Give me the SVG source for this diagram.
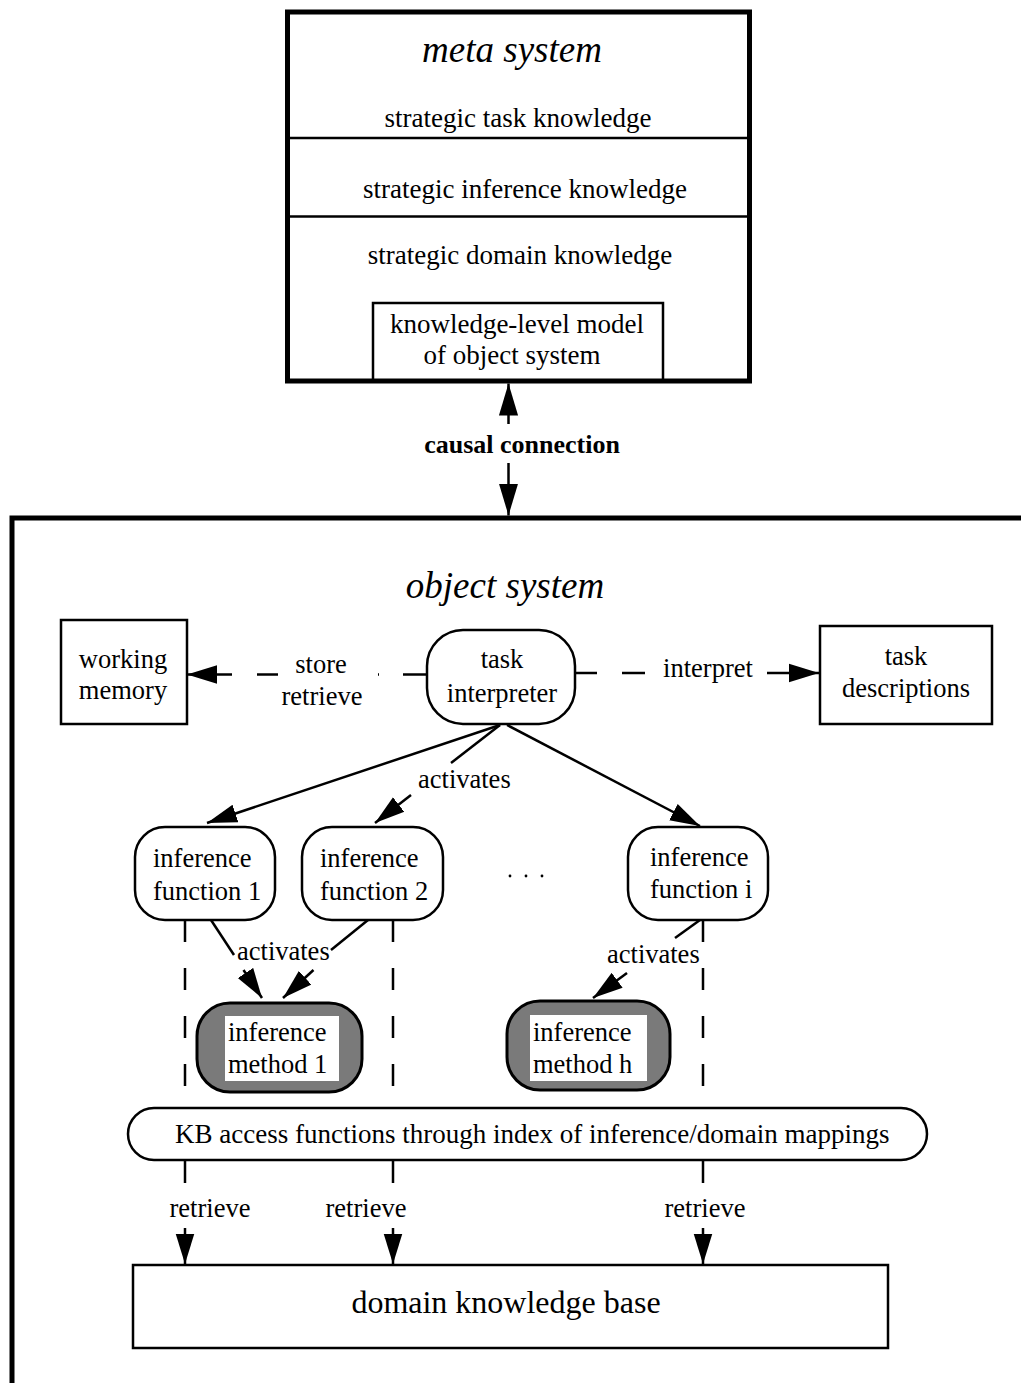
<svg xmlns="http://www.w3.org/2000/svg" width="1021" height="1383" viewBox="0 0 1021 1383">
  <style>
    text { font-family: "Liberation Serif", "Times New Roman", serif; fill: #000; }
    .t { font-size: 26.5px; }
    .tm { font-size: 27px; }
    .title { font-size: 37px; font-style: italic; }
    .mid { text-anchor: middle; }
    .box { fill: #fff; stroke: #000; stroke-width: 2.5; }
    .thick { fill: none; stroke: #000; stroke-width: 5; }
    .line { stroke: #000; stroke-width: 2.5; fill: none; }
    .dash { stroke: #000; stroke-width: 2.5; fill: none; stroke-dasharray: 22 26; }
    .method { fill: #7a7a7a; stroke: #000; stroke-width: 3; }
  </style>
  <defs>
    <marker id="head" markerUnits="userSpaceOnUse" markerWidth="30" markerHeight="20" viewBox="0 0 26 16" refX="26" refY="8" orient="auto">
      <path d="M0,0 L26,8 L0,16 Z" fill="#000"/>
    </marker>
    <marker id="bighead" markerUnits="userSpaceOnUse" markerWidth="32" markerHeight="20" viewBox="0 0 30 18" refX="30" refY="9" orient="auto">
      <path d="M0,0 L30,9 L0,18 Z" fill="#000"/>
    </marker>
  </defs>

  <rect width="1021" height="1383" fill="#fff"/>

  <!-- meta system -->
  <g id="meta-system">
    <rect x="287.5" y="12" width="462" height="369" class="thick"/>
    <line x1="290" y1="138" x2="747" y2="138" stroke="#000" stroke-width="2.5"/>
    <line x1="290" y1="216.5" x2="747" y2="216.5" stroke="#000" stroke-width="2.5"/>
    <text x="512" y="62" class="title mid">meta system</text>
    <text x="518" y="127" class="tm mid">strategic task knowledge</text>
    <text x="525" y="198" class="tm mid">strategic inference knowledge</text>
    <text x="520" y="264" class="tm mid">strategic domain knowledge</text>
  </g>
  <g id="knowledge-level-model">
    <path d="M373,381 V303 H663 V381" class="line"/>
    <text x="517" y="333" class="tm mid">knowledge-level model</text>
    <text x="512" y="364" class="tm mid">of object system</text>
  </g>

  <!-- object system frame -->
  <g id="object-system">
    <rect x="12" y="518" width="1100" height="1000" class="thick"/>
    <text x="505" y="598" class="title mid">object system</text>
  </g>

  <g id="working-memory">
    <rect x="61" y="620" width="126" height="104" class="box"/>
    <text x="123" y="668" class="t mid">working</text>
    <text x="123" y="699" class="t mid">memory</text>
  </g>
  <g id="task-interpreter">
    <rect x="427" y="630" width="148" height="94" rx="36" class="box"/>
    <text x="502" y="668" class="t mid">task</text>
    <text x="502" y="702" class="t mid">interpreter</text>
  </g>
  <g id="task-descriptions">
    <rect x="820" y="626" width="172" height="98" class="box"/>
    <text x="906" y="665" class="t mid">task</text>
    <text x="906" y="697" class="t mid">descriptions</text>
  </g>

  <g id="inference-function-1">
    <rect x="135" y="827" width="140" height="93" rx="30" class="box"/>
    <text x="153" y="867" class="t">inference</text>
    <text x="153" y="900" class="t">function 1</text>
  </g>
  <g id="inference-function-2">
    <rect x="302" y="827" width="141" height="93" rx="30" class="box"/>
    <text x="320" y="867" class="t">inference</text>
    <text x="320" y="900" class="t">function 2</text>
  </g>
  <g id="ellipsis">
    <circle cx="510" cy="876" r="1.4" fill="#000"/>
    <circle cx="526" cy="876" r="1.4" fill="#000"/>
    <circle cx="542" cy="876" r="1.4" fill="#000"/>
  </g>
  <g id="inference-function-i">
    <rect x="628" y="827" width="140" height="93" rx="30" class="box"/>
    <text x="650" y="866" class="t">inference</text>
    <text x="650" y="898" class="t">function i</text>
  </g>

  <g id="inference-method-1">
    <rect x="197" y="1003" width="165" height="89" rx="33" class="method"/>
    <rect x="225" y="1016" width="114" height="65" fill="#fff"/>
    <text x="228" y="1041" class="t">inference</text>
    <text x="228" y="1073" class="t">method 1</text>
  </g>
  <g id="inference-method-h">
    <rect x="507" y="1001" width="163" height="89" rx="33" class="method"/>
    <rect x="530" y="1015" width="117" height="66" fill="#fff"/>
    <text x="533" y="1041" class="t">inference</text>
    <text x="533" y="1073" class="t">method h</text>
  </g>

  <g id="kb-access">
    <rect x="128" y="1108" width="799" height="52" rx="26" class="box"/>
    <text x="175" y="1143" class="tm">KB access functions through index of inference/domain mappings</text>
  </g>

  <g id="domain-knowledge-base">
    <rect x="133" y="1265" width="755" height="83" class="box"/>
    <text x="506" y="1313" style="font-size:32px" class="mid">domain knowledge base</text>
  </g>

  <!-- connectors -->
  <g id="connectors">
    <!-- causal connection -->
    <line x1="508.5" y1="424" x2="508.5" y2="383.5" class="line" marker-end="url(#bighead)"/>
    <line x1="508.5" y1="463" x2="508.5" y2="515.5" class="line" marker-end="url(#bighead)"/>
    <text x="522" y="453" class="mid" style="font-size:26px;font-weight:bold">causal connection</text>

    <!-- store / retrieve -->
    <line x1="427" y1="674.5" x2="403" y2="674.5" class="line"/>
    <line x1="378" y1="674.5" x2="379" y2="674.5" class="line"/>
    <line x1="278" y1="674.5" x2="257" y2="674.5" class="line"/>
    <line x1="232" y1="674.5" x2="187" y2="674.5" class="line" marker-end="url(#head)"/>
    <text x="321" y="673" class="t mid">store</text>
    <text x="322" y="705" class="t mid">retrieve</text>

    <!-- interpret -->
    <line x1="575" y1="673" x2="597" y2="673" class="line"/>
    <line x1="622" y1="673" x2="645" y2="673" class="line"/>
    <line x1="767" y1="673" x2="819" y2="673" class="line" marker-end="url(#head)"/>
    <text x="708" y="677" class="t mid">interpret</text>

    <!-- activates: interpreter to inference functions -->
    <line x1="500" y1="725" x2="207" y2="823" class="line" marker-end="url(#head)"/>
    <line x1="500" y1="725" x2="451" y2="763" class="line"/>
    <line x1="411" y1="795" x2="375" y2="823" class="line" marker-end="url(#head)"/>
    <line x1="507" y1="725" x2="700" y2="826" class="line" marker-end="url(#head)"/>
    <text x="418" y="788" class="t">activates</text>

    <!-- activates: inference functions to methods -->
    <line x1="211" y1="920" x2="234" y2="955" class="line"/>
    <line x1="243.5" y1="970" x2="262" y2="998" class="line" marker-end="url(#head)"/>
    <line x1="368" y1="920" x2="331" y2="950" class="line"/>
    <line x1="313.5" y1="970" x2="283" y2="998" class="line" marker-end="url(#head)"/>
    <text x="237" y="960" class="t">activates</text>

    <line x1="700" y1="920" x2="675" y2="938" class="line"/>
    <line x1="627" y1="973" x2="593" y2="998" class="line" marker-end="url(#head)"/>
    <text x="607" y="963" class="t">activates</text>

    <!-- dashed links down to KB access functions -->
    <line x1="185" y1="920" x2="185" y2="1108" class="dash"/>
    <line x1="393" y1="920" x2="393" y2="1108" class="dash"/>
    <line x1="703" y1="920" x2="703" y2="1108" class="dash"/>

    <!-- retrieve -->
    <line x1="185" y1="1160" x2="185" y2="1183" class="line"/>
    <line x1="393" y1="1160" x2="393" y2="1183" class="line"/>
    <line x1="703" y1="1160" x2="703" y2="1183" class="line"/>
    <line x1="185" y1="1228" x2="185" y2="1264" class="line" marker-end="url(#head)"/>
    <line x1="393" y1="1228" x2="393" y2="1264" class="line" marker-end="url(#head)"/>
    <line x1="703" y1="1228" x2="703" y2="1264" class="line" marker-end="url(#head)"/>
    <text x="210" y="1217" class="t mid">retrieve</text>
    <text x="366" y="1217" class="t mid">retrieve</text>
    <text x="705" y="1217" class="t mid">retrieve</text>
  </g>
</svg>
